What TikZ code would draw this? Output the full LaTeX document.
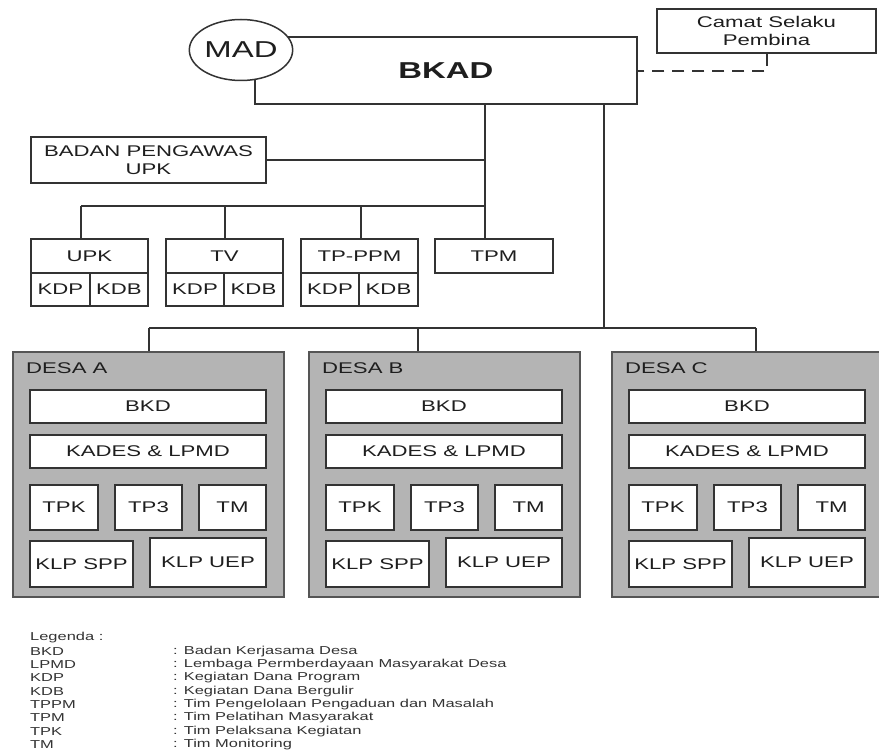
\documentclass[tikz,border=0pt]{standalone}
\usepackage{fontspec}
\setmainfont{Liberation Sans}[FakeStretch=1.43]
\usetikzlibrary{shapes.geometric}
\definecolor{ln}{HTML}{333333}
\definecolor{desagray}{HTML}{B4B4B4}
\definecolor{desaline}{HTML}{555555}
\definecolor{txt}{HTML}{1E1E1E}
% \bxn[opts]{name}{x1}{y1}{x2}{y2}{text}
\newcommand\bxn[7][]{%
  \node[bxs,#1, minimum width={(#4)-(#2)}, minimum height={(#5)-(#3)}]
    (#2x) at ({((#2)+(#4))/2},{((#3)+(#5))/2}) {#7};}
\newcommand\bxnamed[7][]{%
  \node[bxs,#1, minimum width={(#5)-(#3)}, minimum height={(#6)-(#4)}]
    (#2) at ({((#3)+(#5))/2},{((#4)+(#6))/2}) {#7};}
\begin{document}
\begin{tikzpicture}[x=1pt,y=-1pt,
  line/.style={draw=ln, line width=1.5pt},
  bxs/.style={draw=ln, line width=1.5pt, fill=white, inner sep=0pt, text=txt,
    font=\fontsize{15.5}{18.5}\selectfont, align=center},
  desabox/.style={bxs, draw=desaline, line width=1.8pt, fill=desagray},
  desalab/.style={anchor=west, inner sep=0pt, text=txt, font=\fontsize{15.5}{18.5}\selectfont},
  leg/.style={anchor=west, inner sep=0pt, text=ln, font=\fontsize{11.5}{13}\selectfont},
  dashline/.style={draw=ln, line width=2pt, dash pattern=on 12pt off 8pt}]
\useasboundingbox (0,0) rectangle (879,754);
\fill[white] (0,0) rectangle (879,754);

% top
\bxnamed{camat}{657}{9}{876}{53}{Camat Selaku\\Pembina}
\bxnamed[font=\fontsize{23}{26}\bfseries]{bkad}{255}{37}{637}{104}{BKAD}
\node[draw=ln, line width=1.5pt, fill=white, ellipse, inner sep=0pt,
  minimum width=93pt, minimum height=61pt, text=txt,
  font=\fontsize{23}{26}\selectfont] (mad) at (241,50) {MAD};
\coordinate (cc) at (767,71);
\draw[dashline] (camat.south -| cc) -- (cc) -- (bkad.east |- cc);

% upper branch
\bxnamed{bp}{31}{137}{266}{183}{BADAN PENGAWAS\\UPK}
\bxnamed{upk}{31}{239}{148}{273}{UPK}
\bxnamed{upkdp}{31}{273}{90}{306}{KDP}
\bxnamed{upkdb}{90}{273}{148}{306}{KDB}
\bxnamed{tv}{166}{239}{283}{273}{TV}
\bxnamed{tvkdp}{166}{273}{224}{306}{KDP}
\bxnamed{tvkdb}{224}{273}{283}{306}{KDB}
\bxnamed{tpp}{301}{239}{418}{273}{TP-PPM}
\bxnamed{tpkdp}{301}{273}{359}{306}{KDP}
\bxnamed{tpkdb}{359}{273}{418}{306}{KDB}
\bxnamed{tpm}{435}{239}{553}{273}{TPM}

\coordinate (t1) at (485,206);
\coordinate (busL) at (81,206);
\coordinate (dTV) at (225,206);
\coordinate (dTP) at (361,206);
\draw[line] (t1 |- bkad.south) -- (t1 |- tpm.north);
\draw[line] (bp.east) -- (bp.east -| t1);
\draw[line] (busL) -- (t1);
\draw[line] (busL) -- (busL |- upk.north);
\draw[line] (dTV) -- (dTV |- tv.north);
\draw[line] (dTP) -- (dTP |- tpp.north);

% desa
\foreach \L/\n in {13/A,309/B,612/C}{
  \bxnamed[desabox]{d\n}{\L}{352}{\L+271}{597}{}
  \node[desalab] (lab\n) at (\L+13,368) {DESA \n};
  \bxnamed{bkd\n}{\L+17}{390}{\L+253}{423}{BKD}
  \bxnamed{kades\n}{\L+17}{435}{\L+253}{468}{KADES \& LPMD}
  \bxnamed{tpk\n}{\L+17}{485}{\L+85}{530}{TPK}
  \bxnamed{tpt\n}{\L+102}{485}{\L+169}{530}{TP3}
  \bxnamed{tm\n}{\L+186}{485}{\L+253}{530}{TM}
  \bxnamed{spp\n}{\L+17}{541}{\L+120}{587}{KLP SPP}
  \bxnamed{uep\n}{\L+137}{538}{\L+253}{587}{KLP UEP}
}
\coordinate (t2) at (604,328);
\coordinate (dropA) at (149,328);
\coordinate (dropB) at (418,328);
\coordinate (dropC) at (756,328);
\draw[line] (t2 |- bkad.south) -- (t2);
\draw[line] (dropA) -- (dropC);
\draw[line] (dropA) -- (dropA |- dA.north);
\draw[line] (dropB) -- (dropB |- dB.north);
\draw[line] (dropC) -- (dropC |- dC.north);

% legend
\node[leg] (legt) at (30,638) {Legenda :};
\foreach \k/\v [count=\i] in {BKD/Badan Kerjasama Desa,
  LPMD/Lembaga Permberdayaan Masyarakat Desa,
  KDP/Kegiatan Dana Program,
  KDB/Kegiatan Dana Bergulir,
  TPPM/Tim Pengelolaan Pengaduan dan Masalah,
  TPM/Tim Pelatihan Masyarakat,
  TPK/Tim Pelaksana Kegiatan,
  TM/Tim Monitoring}{
  \node[leg] (lk\i) at (30,638+13.3*\i) {\k};
  \node[leg] (lv\i) at (173,638+13.3*\i) {: \v};
}
\end{tikzpicture}
\end{document}
